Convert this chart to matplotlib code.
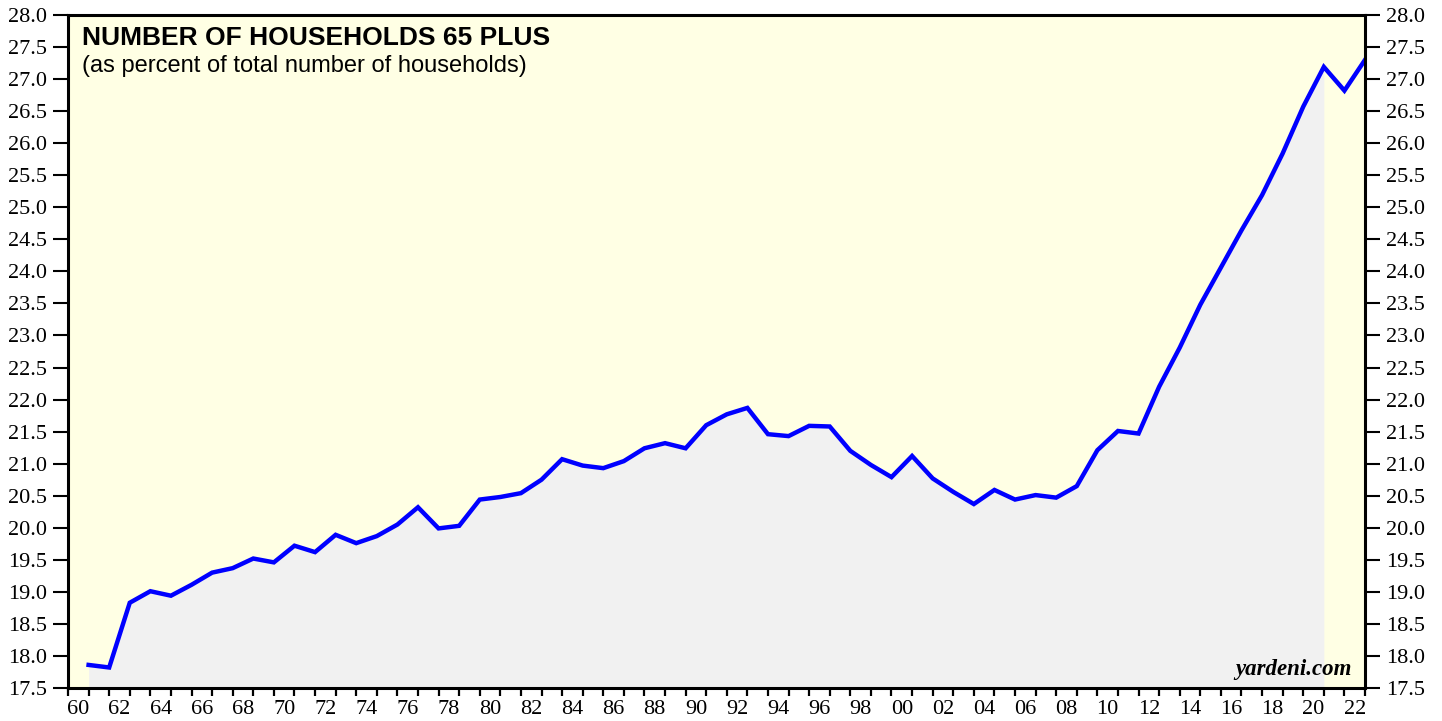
import matplotlib
matplotlib.use("Agg")
import matplotlib.pyplot as plt
from matplotlib.ticker import FixedLocator, NullFormatter
import numpy as np

# annual values, 1960-2022 (plotted at year end)
years = list(range(1960, 2023))
share_65plus = [
    17.86, 17.82, 18.83, 19.01, 18.94, 19.11, 19.30, 19.37, 19.52, 19.46,
    19.72, 19.62, 19.89, 19.76, 19.87, 20.05, 20.32, 19.99, 20.03, 20.44,
    20.48, 20.54, 20.75, 21.07, 20.97, 20.93, 21.04, 21.24, 21.32, 21.24,
    21.60, 21.77, 21.87, 21.46, 21.43, 21.59, 21.58, 21.20, 20.98, 20.79,
    21.12, 20.77, 20.56, 20.37, 20.59, 20.44, 20.51, 20.47, 20.65, 21.21,
    21.51, 21.47, 22.20, 22.81, 23.48, 24.06, 24.64, 25.19, 25.84, 26.57,
    27.19, 26.82, 27.30,
]
shade_last_year = 2020
tick_years = list(range(1960, 2023, 2))
tick_labels = ["%02d" % (y % 100) for y in tick_years]

x = np.array(years) + 1.0
y = np.array(share_65plus)

fig = plt.figure(figsize=(14.42, 7.21), dpi=100)
ax = fig.add_axes([68 / 1442, 1 - 688 / 721, (1365 - 68) / 1442, (688 - 15) / 721])
ax.set_facecolor("#ffffe4")

mask = np.array(years) <= shade_last_year
ax.fill_between(x[mask], y[mask], 17.5, color="#f1f1f1", lw=0, zorder=1)
ax.plot(x, y, color="#0000ff", lw=3.2, zorder=3, solid_joinstyle="miter")

ax.set_xlim(1960, 2023)
ax.set_ylim(17.5, 28.0)

# x: a tick every year, labels centred in the even years
ax.xaxis.set_major_locator(FixedLocator(np.arange(1960, 2024)))
ax.xaxis.set_major_formatter(NullFormatter())
ax.xaxis.set_minor_locator(FixedLocator(np.array(tick_years) + 0.5))
ax.set_xticklabels(tick_labels, minor=True)
ax.tick_params(axis="x", which="major", direction="out", length=6, width=1.6, color="black")
ax.tick_params(axis="x", which="minor", length=0, pad=8.5)

ax.set_yticks(np.arange(17.5, 28.01, 0.5))
ax.yaxis.set_major_formatter(plt.FuncFormatter(lambda v, p: "%.1f" % v))
ax.tick_params(axis="y", which="major", direction="out", length=11, width=1.5,
               left=True, right=True, labelleft=True, labelright=True, pad=4,
               labelsize=16)

for lab in ax.get_xticklabels(minor=True):
    lab.set_fontfamily("Liberation Serif")
    lab.set_fontsize(16)
for lab in ax.yaxis.get_ticklabels(which="both"):
    lab.set_fontfamily("Liberation Serif")

for s in ax.spines.values():
    s.set_linewidth(2.2)
    s.set_zorder(5)

ax.text(0.011, 0.984, "NUMBER OF HOUSEHOLDS 65 PLUS", transform=ax.transAxes,
        fontfamily="Liberation Sans", fontweight="bold", fontsize=19,
        va="top", ha="left")
ax.text(0.011, 0.940, "(as percent of total number of households)", transform=ax.transAxes,
        fontfamily="Liberation Sans", fontsize=17, va="top", ha="left")
ax.text(0.99, 0.012, "yardeni.com", transform=ax.transAxes,
        fontfamily="Liberation Serif", fontweight="bold", fontstyle="italic",
        fontsize=16.5, va="bottom", ha="right", zorder=6)

fig.savefig("out.png", dpi=100)
